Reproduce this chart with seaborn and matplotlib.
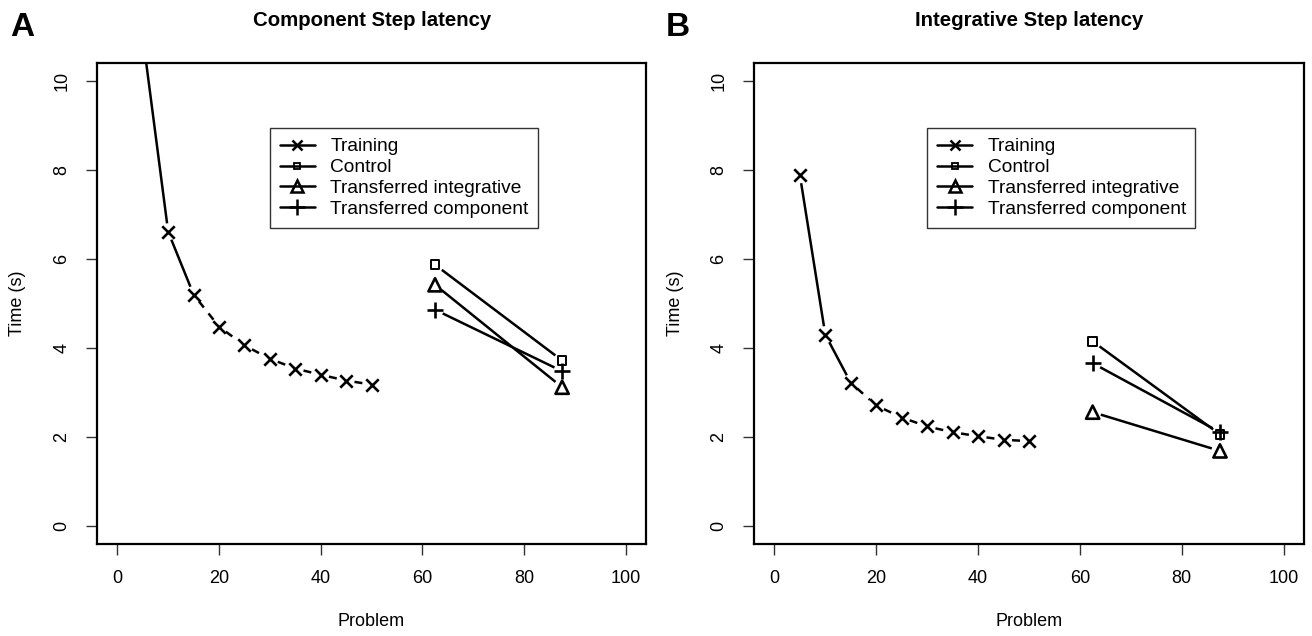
import numpy as np
import pandas as pd
import matplotlib
matplotlib.use("Agg")
import matplotlib.pyplot as plt
from matplotlib.lines import Line2D
import seaborn as sns

# ---------------- data ----------------
train_problems = [5, 10, 15, 20, 25, 30, 35, 40, 45, 50]
transfer_problems = [62.5, 87.5]

comp_training = [11.0, 6.61, 5.20, 4.48, 4.06, 3.76, 3.54, 3.40, 3.27, 3.18]
comp_control = [5.87, 3.72]
comp_trans_integ = [5.42, 3.12]
comp_trans_comp = [4.86, 3.48]

integ_training = [7.89, 4.30, 3.22, 2.71, 2.44, 2.24, 2.11, 2.02, 1.94, 1.91]
integ_control = [4.15, 2.06]
integ_trans_integ = [2.56, 1.69]
integ_trans_comp = [3.66, 2.11]

titles = ["Component Step latency", "Integrative Step latency"]
panel_letters = ["A", "B"]
legend_labels = ["Training", "Control", "Transferred integrative", "Transferred component"]
x_ticks = [0, 20, 40, 60, 80, 100]
y_ticks = [0, 2, 4, 6, 8, 10]

# ---------------- style ----------------
sns.set_theme(style="white")
plt.rcParams["font.family"] = ["Liberation Sans", "DejaVu Sans"]
for k in ["text.color", "axes.labelcolor", "xtick.color", "ytick.color"]:
    plt.rcParams[k] = "black"

W, H = 1312, 636
fig = plt.figure(figsize=(W / 100, H / 100), dpi=100)

LW = 1.8
GAP = 8.5  # px gap around points (R type="b")


def px_box(l, t, r, b):
    return [l / W, 1 - b / H, (r - l) / W, (b - t) / H]


def gapped_segment(ax, p0, p1, ls="-"):
    tr = ax.transData
    a = tr.transform(p0)
    b = tr.transform(p1)
    d = b - a
    n = np.hypot(*d)
    if n <= 2 * GAP:
        return
    u = d / n
    inv = tr.inverted()
    q0 = inv.transform(a + u * GAP)
    q1 = inv.transform(b - u * GAP)
    ax.plot([q0[0], q1[0]], [q0[1], q1[1]], color="black", lw=LW, linestyle=ls,
            solid_capstyle="butt", dash_capstyle="butt")


# legend handle styles (Line2D)
legend_specs = {
    "Training": dict(marker="x", ms=7, mew=1.8, mfc="none"),
    "Control": dict(marker="s", ms=5, mew=1.3, mfc="none"),
    "Transferred integrative": dict(marker="^", ms=8, mew=1.8, mfc="none"),
    "Transferred component": dict(marker="+", ms=12, mew=1.8, mfc="none"),
}
# scatter styles
scatter_specs = {
    "Training": dict(marker="x", s=80, linewidth=1.9, color="black"),
    "Control": dict(marker="s", s=38, linewidth=1.4, facecolor="none", edgecolor="black"),
    "Transferred integrative": dict(marker="^", s=90, linewidth=1.9, facecolor="none", edgecolor="black"),
    "Transferred component": dict(marker="+", s=120, linewidth=1.9, color="black"),
}


def draw_panel(box, training, control, t_integ, t_comp, title, letter, title_x, letter_x):
    ax = fig.add_axes(px_box(*box))
    ax.set_xlim(-4, 104)
    ax.set_ylim(-0.4, 10.4)

    # training curve
    df = pd.DataFrame({"problem": train_problems, "time": training})
    for i in range(len(train_problems) - 1):
        ls = "-" if i < 2 else (0, (3.2, 3.0))
        gapped_segment(ax, (train_problems[i], training[i]),
                       (train_problems[i + 1], training[i + 1]), ls=ls)
    sns.scatterplot(data=df, x="problem", y="time", ax=ax, legend=False,
                    zorder=3, **scatter_specs["Training"])

    for lab, vals in [("Control", control), ("Transferred integrative", t_integ),
                      ("Transferred component", t_comp)]:
        gapped_segment(ax, (transfer_problems[0], vals[0]), (transfer_problems[1], vals[1]))
        d2 = pd.DataFrame({"problem": transfer_problems, "time": vals})
        sns.scatterplot(data=d2, x="problem", y="time", ax=ax, legend=False,
                        zorder=3, **scatter_specs[lab])

    ax.set_xlim(-4, 104)
    ax.set_ylim(-0.4, 10.4)
    ax.set_xticks(x_ticks)
    ax.set_yticks(y_ticks)
    ax.set_xlabel("")
    ax.set_ylabel("")
    for s in ax.spines.values():
        s.set_visible(True)
        s.set_color("black")
        s.set_linewidth(1.6)
    ax.tick_params(axis="both", which="major", length=8, width=1.0, color="#333333",
                   direction="out", labelsize=13, pad=11, bottom=True, left=True)
    ax.tick_params(axis="y", labelrotation=90)
    for t in ax.get_yticklabels():
        t.set_va("center")
    ax.grid(False)

    handles = [Line2D([0], [0], color="black", lw=LW, **legend_specs[l]) for l in legend_labels]
    leg = ax.legend(handles, legend_labels, loc="upper left",
                    bbox_to_anchor=(0.315, 0.864), fontsize=13.8, frameon=True,
                    fancybox=False, edgecolor="black", borderpad=0.5,
                    handlelength=1.85, handletextpad=0.8, labelspacing=0.18,
                    borderaxespad=0)
    leg.get_frame().set_linewidth(1.0)

    # texts
    cx = (box[0] + box[2]) / 2
    fig.text(cx / W, 1 - 622 / H, "Problem", ha="center", va="center", fontsize=13)
    fig.text((box[0] - 79) / W, 1 - ((box[1] + box[3]) / 2) / H, "Time (s)",
             ha="center", va="center", rotation=90, fontsize=13)
    fig.text(title_x / W, 1 - 20 / H, title, ha="center", va="center",
             fontsize=14.7, fontweight="bold")
    fig.text(letter_x / W, 1 - 28 / H, letter, ha="left", va="center",
             fontsize=24, fontweight="heavy")
    return ax


draw_panel((97, 63, 646, 544), comp_training, comp_control, comp_trans_integ,
           comp_trans_comp, titles[0], panel_letters[0], 372, 10)
draw_panel((754, 63, 1304, 544), integ_training, integ_control, integ_trans_integ,
           integ_trans_comp, titles[1], panel_letters[1], 1029, 666)

fig.savefig("out.png", dpi=100)
